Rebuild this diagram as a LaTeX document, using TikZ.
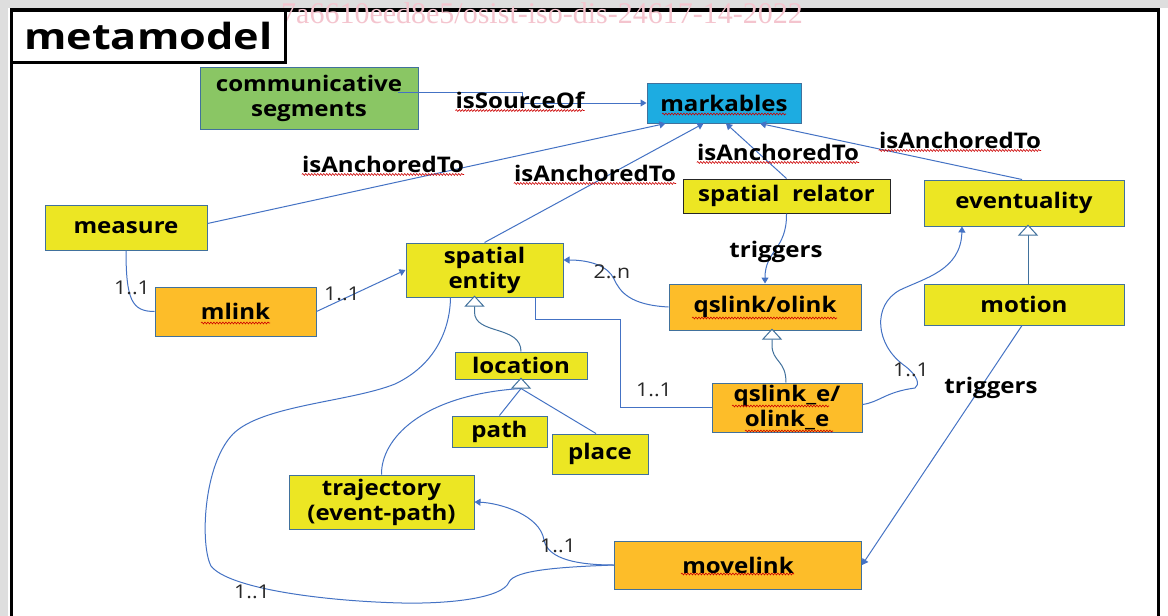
\documentclass[tikz,border=0pt]{standalone}
\usepackage{fontspec}
\setmainfont{Open Sans}
\newfontfamily\boxfont[FakeStretch=1.12]{Open Sans}
\newfontfamily\titlefont[FakeStretch=1.2]{Open Sans}
\newfontfamily\wmfont{Liberation Serif}
\usetikzlibrary{arrows.meta,calc,decorations.pathmorphing}
\definecolor{ylw}{RGB}{236,230,35}
\definecolor{org}{RGB}{253,189,41}
\definecolor{grn}{RGB}{138,198,100}
\definecolor{cyn}{RGB}{29,172,225}
\definecolor{bdr}{RGB}{65,113,156}
\definecolor{cnn}{RGB}{68,114,196}
\definecolor{wm}{RGB}{244,196,206}
\definecolor{band}{RGB}{222,222,222}
\definecolor{cardc}{RGB}{40,40,40}
\begin{document}
\begin{tikzpicture}[x=1pt,y=-1pt,
  box/.style={draw=bdr, line width=1pt, inner sep=0pt, align=center,
    font=\boxfont\bfseries\fontsize{21.5}{25}\selectfont, text=black},
  lbl/.style={inner sep=0pt, font=\boxfont\bfseries\fontsize{21.5}{25}\selectfont, text=black},
  card/.style={inner sep=0pt, font=\boxfont\fontsize{19}{22}\selectfont, text=cardc},
  conn/.style={draw=cnn, line width=1pt},
  arr/.style={conn, -{Triangle[width=7pt,length=6pt]}},
  inh/.style={draw=bdr, line width=1pt, -{Triangle[open,fill=white,width=20pt,length=11pt]}},
  squig/.style={draw=red!80!black, line width=0.6pt, decorate,
    decoration={snake, segment length=3pt, amplitude=0.9pt}}
]
\useasboundingbox (0,0) rectangle (1168,616);
\fill[white] (0,0) rectangle (1168,616);
\fill[band] (0,0) rectangle (1168,8);
\fill[band] (0,0) rectangle (8,616);
\draw[line width=3.5pt] (11.5,620) -- (11.5,10) -- (1158.5,10) -- (1158.5,620);

% watermark
\node[anchor=base, inner sep=0pt, text=wm, font=\wmfont\fontsize{30}{32}\selectfont] (wmark) at (542,23) {7a6610eed8e5/osist-iso-dis-24617-14-2022};

% title
\node[draw, line width=3pt, minimum width=273.5, minimum height=52, inner sep=0pt,
  font=\titlefont\bfseries\fontsize{36}{40}\selectfont] (meta) at (148.25,36) {metamodel};

% boxes
\node[box, fill=grn, minimum width=218, minimum height=62] (comm) at (309,98) {communicative\\segments};
\node[box, fill=cyn, minimum width=154, minimum height=40] (mark) at (724,103) {markables};
\node[box, fill=ylw, minimum width=162, minimum height=45] (meas) at (126,227.5) {measure};
\node[box, fill=ylw, draw=black!85, minimum width=207, minimum height=34] (srel) at (786.5,196) {spatial\ \ relator};
\node[box, fill=ylw, minimum width=200, minimum height=46] (even) at (1024,203) {eventuality};
\node[box, fill=ylw, minimum width=157, minimum height=54] (sent) at (484.5,270) {spatial\\entity};
\node[box, fill=org, minimum width=161, minimum height=49] (mlink) at (235.5,311.5) {mlink};
\node[box, fill=org, minimum width=192, minimum height=46] (qso) at (765,307) {qslink/olink};
\node[box, fill=ylw, minimum width=200, minimum height=41] (motion) at (1024,304.5) {motion};
\node[box, fill=ylw, minimum width=132, minimum height=27] (loc) at (521,365.5) {location};
\node[box, fill=org, minimum width=150, minimum height=49] (qse) at (787,407.5) {qslink\_e/\\olink\_e};
\node[box, fill=ylw, minimum width=95, minimum height=31] (path) at (499.5,431.5) {path};
\node[box, fill=ylw, minimum width=96, minimum height=40] (place) at (600,454) {place};
\node[box, fill=ylw, minimum width=185, minimum height=54] (traj) at (381.5,502) {trajectory\\(event-path)};
\node[box, fill=org, minimum width=247, minimum height=48] (move) at (738,565) {movelink};

% plain connectors
\draw[arr] ($(comm.center)+(89,-6)$) -- ++(124,0) |- (mark.west);
\draw[arr] ($(meas.east)+(0,-4)$) -- ($(mark.south west)+(19,0)$);
\draw[arr] (sent.north) -- ($(mark.south west)+(57,0)$);
\draw[arr] (srel.north) -- ($(mark.south)+(2,0)$);
\draw[arr] ($(even.north)+(-2,0)$) -- ($(mark.south)+(36,0)$);
\draw[conn] (meas.south) .. controls (126,300) and (132,311.5) .. (mlink.west);
\draw[arr] (mlink.east) -- (sent.west);
\draw[arr] (qso.west) .. controls (630,305) and (620,292) .. (614,279)
  .. controls (608,266) and (590,260) .. ($(sent.east)+(0,-10)$);
\draw[arr] (srel.south) .. controls (787,250) and (765,250) .. (qso.north);
\draw[conn] ($(sent.south east)+(-28,0)$) -- ++(0,22) -| ($(qse.west)+(-91,0)$) -- (qse.west);
\draw[arr] ($(qse.east)+(0,-3)$) .. controls (880,402) and (885,392) .. (915,388)
  .. controls (920,385) and (918,376) .. (905,366)
  .. controls (875,345) and (872,305) .. (900,290)
  .. controls (925,278) and (961,270) .. ($(even.south)+(-62,0)$);
\draw[arr] ($(motion.south)+(-2,0)$) -- (move.east);
\draw[arr] (move.west) .. controls (580,565) and (548,560) .. (544,540)
  .. controls (540,515) and (500,503) .. (traj.east);
\draw[conn] (move.west) .. controls (560,567) and (515,570) .. (509,582)
  .. controls (503,598) and (450,604) .. (402,603)
  .. controls (320,601) and (228,588) .. (211,566)
  .. controls (200,545) and (203,465) .. (233,434)
  .. controls (262,405) and (350,402) .. (395,384)
  .. controls (435,365) and (450,330) .. ($(sent.south)+(-34,0)$);

% generalizations
\coordinate (locb) at ($(loc.south)+(0,9)$);
\draw[conn] (path.north) -- (locb);
\draw[conn] ($(place.north)+(-4,0)$) -- (locb);
\draw[conn] (traj.north) .. controls (381,440) and (420,395) .. (locb);
\draw[inh] (locb) -- ($(loc.south)+(0,-2)$);
\draw[inh] (loc.north) .. controls (521,325) and (474.5,335) .. (474.5,312) -- ($(sent.south)+(-10,-2)$);
\draw[inh] ($(qse.north)+(-1,0)$) .. controls (786,360) and (772,362) .. (772,345) -- ($(qso.south)+(7,-2)$);
\draw[inh] ($(motion.north)+(4,0)$) -- ($(even.south)+(4,-2)$);

% labels
\node[lbl] (lsrc) at (520,100) {isSourceOf};
\node[lbl] (la1) at (383,164) {isAnchoredTo};
\node[lbl] (la2) at (595,173) {isAnchoredTo};
\node[lbl] (la3) at (778,152) {isAnchoredTo};
\node[lbl] (la4) at (960,140) {isAnchoredTo};
\node[lbl] (ltr1) at (776,252) {triggers};
\node[lbl] (ltr2) at (991,388) {triggers};
\node[card] (c2n) at (612,272) {2..n};
\node[card] (c1) at (132,288) {1..1};
\node[card] (c2) at (342,294) {1..1};
\node[card] (c3) at (654,390) {1..1};
\node[card] (c4) at (911,370) {1..1};
\node[card] (c5) at (558,546) {1..1};
\node[card] (c6) at (252,592) {1..1};

% spell-check squiggles
\draw[squig] ($(lsrc.south west)+(0,2)$) -- ($(lsrc.south east)+(0,2)$);
\draw[squig] ($(la1.south west)+(0,2)$) -- ($(la1.south east)+(0,2)$);
\draw[squig] ($(la2.south west)+(0,2)$) -- ($(la2.south east)+(0,2)$);
\draw[squig] ($(la3.south west)+(0,2)$) -- ($(la3.south east)+(0,2)$);
\draw[squig] ($(la4.south west)+(0,2)$) -- ($(la4.south east)+(0,2)$);
\draw[squig] (662,114) -- (786,114);
\draw[squig] (201,323) -- (270,323);
\draw[squig] (692,318) -- (837,318);
\draw[squig] (732,406) -- (829,406);
\draw[squig] (745,431) -- (833,431);
\draw[squig] (681,574) -- (794,574);
\end{tikzpicture}
\end{document}
